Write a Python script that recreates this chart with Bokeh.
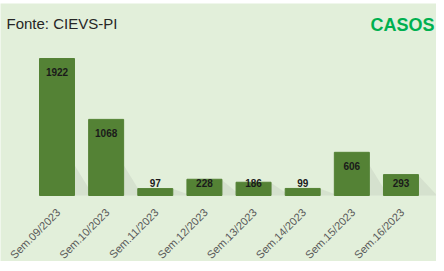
import numpy as np
from bokeh.plotting import figure
from bokeh.models import ColumnDataSource, Range1d, Label, Spacer
from bokeh.layouts import column
from bokeh.core.properties import value
from bokeh.embed import file_html
from bokeh.resources import INLINE

weeks = ["Sem.09/2023", "Sem.10/2023", "Sem.11/2023", "Sem.12/2023",
         "Sem.13/2023", "Sem.14/2023", "Sem.15/2023", "Sem.16/2023"]
cases = [1922, 1068, 97, 228, 186, 99, 606, 293]

source_text = "Fonte: CIEVS-PI"
series_title = "CASOS"

BG = "#e2efda"
BAR = "#548235"
BAR_W = 0.712

xs = list(range(len(weeks)))
vals = np.array(cases, dtype=float)
label_y = np.maximum(vals - 196, 182)

src = ColumnDataSource(dict(x=xs, cases=cases, label_y=label_y,
                            txt=[str(c) for c in cases],
                            week=weeks,
                            wx=[x - 0.06 for x in xs],
                            wy=[-150] * len(xs)))

# soft cast shadows to the lower right of each bar
sh_xs, sh_ys = [], []
for x, v in zip(xs, vals):
    xr = x + BAR_W / 2
    h = min(v, 450.0)
    sh_xs.append([xr - 0.02, xr - 0.02, xr + 0.38])
    sh_ys.append([0, h, 0])

p = figure(x_range=Range1d(-1.150, 7.723), y_range=Range1d(-926, 2694),
           width=436, height=258, output_backend="svg", toolbar_location=None,
           min_border=0)
p.background_fill_color = BG
p.border_fill_color = BG
p.outline_line_color = None
p.xgrid.grid_line_color = None
p.ygrid.grid_line_color = None
p.xaxis.visible = False
p.yaxis.visible = False

p.patches(sh_xs, sh_ys, fill_color="#7f7f7f", fill_alpha=0.12, line_color=None)

p.vbar(x="x", top="cases", width=BAR_W, source=src,
       fill_color=BAR, line_color=BAR)

p.text(x="x", y="label_y", text="txt", source=src,
       text_align="center", text_baseline="middle",
       text_font=value("Liberation Sans"), text_font_style="bold",
       text_font_size="10px", text_color="#1a1a1a")

# category labels (rotated 45 degrees, like the spreadsheet axis)
p.text(x="wx", y="wy", text="week", source=src, angle=np.pi / 4,
       text_align="right", text_baseline="top",
       text_font=value("Liberation Sans"), text_font_size="11px",
       text_color="#595959")

p.add_layout(Label(x=6, y=238, x_units="screen", y_units="screen",
                   text=source_text, text_font="Liberation Sans",
                   text_font_size="15px", text_color="#262626",
                   text_baseline="middle"))
p.add_layout(Label(x=370, y=237, x_units="screen", y_units="screen",
                   text=series_title, text_font="Liberation Sans",
                   text_font_style="bold", text_font_size="18px",
                   text_color="#00b050", text_baseline="middle"))

layout = column(Spacer(height=3, width=436), p, spacing=0)
open("out.html", "w").write(file_html(layout, INLINE))
